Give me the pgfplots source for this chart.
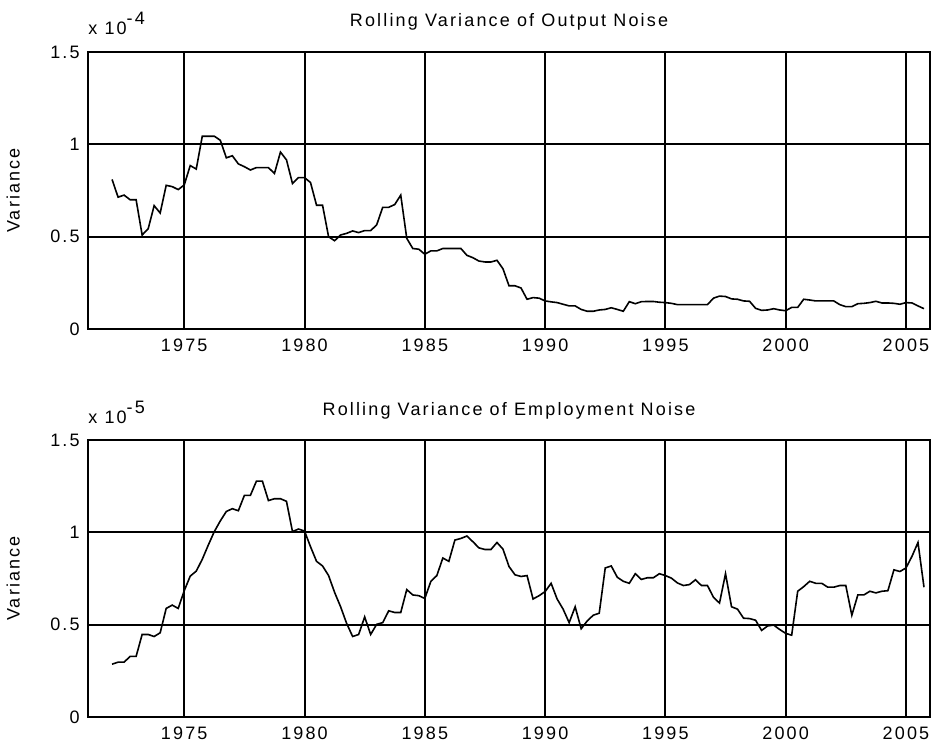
\documentclass[border=0pt]{standalone}
\usepackage{fontspec}
\setmainfont{Liberation Sans}[LetterSpace=12]
\usepackage{pgfplots}
\pgfplotsset{compat=1.18}
\usepackage{pgfplotstable}

\pgfplotstableread{
x v
1972.00 0.810
1972.25 0.714
1972.50 0.725
1972.75 0.700
1973.00 0.700
1973.25 0.509
1973.50 0.542
1973.75 0.668
1974.00 0.628
1974.25 0.778
1974.50 0.771
1974.75 0.755
1975.00 0.780
1975.25 0.885
1975.50 0.866
1975.75 1.044
1976.00 1.044
1976.25 1.044
1976.50 1.022
1976.75 0.927
1977.00 0.938
1977.25 0.894
1977.50 0.879
1977.75 0.861
1978.00 0.874
1978.25 0.874
1978.50 0.874
1978.75 0.842
1979.00 0.958
1979.25 0.916
1979.50 0.788
1979.75 0.820
1980.00 0.820
1980.25 0.793
1980.50 0.670
1980.75 0.670
1981.00 0.500
1981.25 0.478
1981.50 0.509
1981.75 0.518
1982.00 0.531
1982.25 0.522
1982.50 0.533
1982.75 0.533
1983.00 0.564
1983.25 0.659
1983.50 0.659
1983.75 0.674
1984.00 0.725
1984.25 0.491
1984.50 0.436
1984.75 0.432
1985.00 0.405
1985.25 0.423
1985.50 0.423
1985.75 0.436
1986.00 0.436
1986.25 0.436
1986.50 0.436
1986.75 0.399
1987.00 0.386
1987.25 0.368
1987.50 0.363
1987.75 0.363
1988.00 0.372
1988.25 0.326
1988.50 0.234
1988.75 0.234
1989.00 0.222
1989.25 0.161
1989.50 0.170
1989.75 0.167
1990.00 0.152
1990.25 0.147
1990.50 0.143
1990.75 0.134
1991.00 0.125
1991.25 0.125
1991.50 0.106
1991.75 0.096
1992.00 0.096
1992.25 0.103
1992.50 0.106
1992.75 0.115
1993.00 0.106
1993.25 0.096
1993.50 0.148
1993.75 0.137
1994.00 0.148
1994.25 0.149
1994.50 0.149
1994.75 0.145
1995.00 0.143
1995.25 0.139
1995.50 0.132
1995.75 0.132
1996.00 0.132
1996.25 0.132
1996.50 0.132
1996.75 0.132
1997.00 0.167
1997.25 0.178
1997.50 0.176
1997.75 0.163
1998.00 0.161
1998.25 0.152
1998.50 0.150
1998.75 0.112
1999.00 0.101
1999.25 0.103
1999.50 0.110
1999.75 0.103
2000.00 0.099
2000.25 0.117
2000.50 0.117
2000.75 0.161
2001.00 0.157
2001.25 0.152
2001.50 0.152
2001.75 0.152
2002.00 0.152
2002.25 0.132
2002.50 0.121
2002.75 0.121
2003.00 0.137
2003.25 0.139
2003.50 0.143
2003.75 0.150
2004.00 0.141
2004.25 0.141
2004.50 0.139
2004.75 0.134
2005.00 0.143
2005.25 0.141
2005.50 0.125
2005.75 0.110
}\outputdata

\pgfplotstableread{
x v
1972.00 0.286
1972.25 0.297
1972.50 0.297
1972.75 0.328
1973.00 0.328
1973.25 0.447
1973.50 0.447
1973.75 0.436
1974.00 0.456
1974.25 0.588
1974.50 0.606
1974.75 0.588
1975.00 0.684
1975.25 0.763
1975.50 0.790
1975.75 0.854
1976.00 0.931
1976.25 1.004
1976.50 1.062
1976.75 1.113
1977.00 1.128
1977.25 1.117
1977.50 1.200
1977.75 1.200
1978.00 1.277
1978.25 1.277
1978.50 1.172
1978.75 1.182
1979.00 1.182
1979.25 1.168
1979.50 1.004
1979.75 1.018
1980.00 1.007
1980.25 0.922
1980.50 0.843
1980.75 0.818
1981.00 0.766
1981.25 0.675
1981.50 0.597
1981.75 0.507
1982.00 0.436
1982.25 0.447
1982.50 0.542
1982.75 0.447
1983.00 0.502
1983.25 0.511
1983.50 0.575
1983.75 0.566
1984.00 0.566
1984.25 0.690
1984.50 0.661
1984.75 0.657
1985.00 0.642
1985.25 0.734
1985.50 0.766
1985.75 0.861
1986.00 0.843
1986.25 0.958
1986.50 0.967
1986.75 0.980
1987.00 0.949
1987.25 0.916
1987.50 0.907
1987.75 0.907
1988.00 0.945
1988.25 0.909
1988.50 0.815
1988.75 0.770
1989.00 0.761
1989.25 0.766
1989.50 0.639
1989.75 0.657
1990.00 0.679
1990.25 0.724
1990.50 0.639
1990.75 0.584
1991.00 0.511
1991.25 0.597
1991.50 0.478
1991.75 0.520
1992.00 0.551
1992.25 0.562
1992.50 0.807
1992.75 0.818
1993.00 0.757
1993.25 0.735
1993.50 0.724
1993.75 0.776
1994.00 0.745
1994.25 0.754
1994.50 0.754
1994.75 0.776
1995.00 0.766
1995.25 0.752
1995.50 0.726
1995.75 0.712
1996.00 0.717
1996.25 0.743
1996.50 0.712
1996.75 0.712
1997.00 0.648
1997.25 0.617
1997.50 0.776
1997.75 0.597
1998.00 0.584
1998.25 0.535
1998.50 0.533
1998.75 0.524
1999.00 0.469
1999.25 0.493
1999.50 0.498
1999.75 0.474
2000.00 0.453
2000.25 0.443
2000.50 0.681
2000.75 0.706
2001.00 0.735
2001.25 0.724
2001.50 0.724
2001.75 0.703
2002.00 0.703
2002.25 0.712
2002.50 0.712
2002.75 0.551
2003.00 0.661
2003.25 0.661
2003.50 0.681
2003.75 0.672
2004.00 0.681
2004.25 0.684
2004.50 0.797
2004.75 0.788
2005.00 0.807
2005.25 0.870
2005.50 0.945
2005.75 0.703
}\employdata

\pgfplotsset{
  mystyle/.style={
    scale only axis,
    clip=false,
    width=421pt, height=138.5pt,
    xmin=1971, xmax=2006,
    ymin=0, ymax=1.5,
    xtick={1975,1980,1985,1990,1995,2000,2005},
    xticklabels={1975,1980,1985,1990,1995,2000,2005},
    ytick={0,0.5,1,1.5},
    yticklabels={0,0.5,1,1.5},
    tick align=inside,
    major tick length=3pt,
    tick style={black, line width=0.6pt},
    grid=major,
    major grid style={black, line width=1pt, solid},
    axis line style={black, line width=1.3pt},
    /pgf/number format/assume math mode=true,
    tick label style={font=\fontsize{9}{11}\selectfont},
    xticklabel style={yshift=-2pt},
    yticklabel style={xshift=-1pt},
    label style={font=\fontsize{9}{11}\selectfont},
    every axis title shift=0pt,
    title style={font=\fontsize{9}{11}\selectfont, at={(0.5,1)}, anchor=base, yshift=12.5pt},
    ylabel={Variance},
    ylabel style={yshift=9pt},
  }
}

\begin{document}
\fontsize{9}{11}\selectfont
\begin{tikzpicture}
\path[use as bounding box] (-44pt,26pt) rectangle (423.5pt,-348.5pt);
\begin{axis}[mystyle, anchor=north west, at={(0,0)},
  title={Rolling Variance of Output Noise}]
\addplot[black, line width=0.8pt, mark=none] table[x=x,y=v]{\outputdata};
\node[anchor=base west, inner sep=0pt, font=\fontsize{9}{11}\selectfont] at (rel axis cs:0,1) [yshift=8.5pt] {x 10\raisebox{5pt}{-4}};
\end{axis}
\begin{axis}[mystyle, anchor=north west, at={(0,-194pt)},
  title={Rolling Variance of Employment Noise}]
\addplot[black, line width=0.8pt, mark=none] table[x=x,y=v]{\employdata};
\node[anchor=base west, inner sep=0pt, font=\fontsize{9}{11}\selectfont] at (rel axis cs:0,1) [yshift=8.5pt] {x 10\raisebox{5pt}{-5}};
\end{axis}
\end{tikzpicture}
\end{document}
